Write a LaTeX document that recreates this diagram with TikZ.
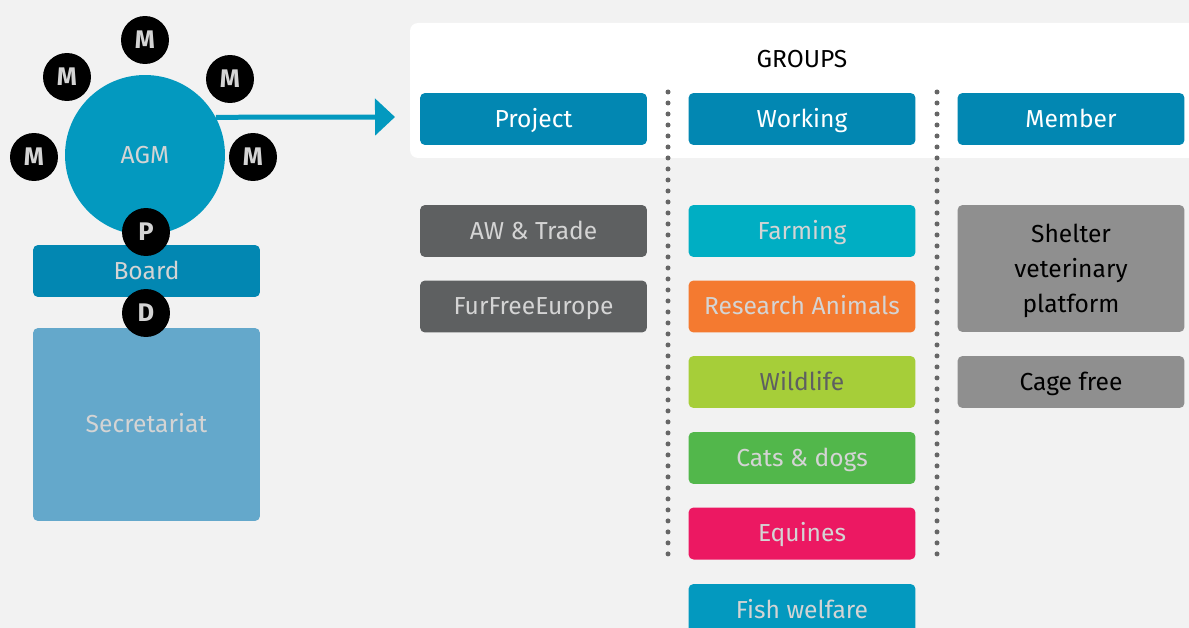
\documentclass[tikz,border=0pt]{standalone}
\usepackage{fontspec}
\setmainfont{Fira Sans}
\usetikzlibrary{arrows.meta,positioning}
\definecolor{bgc}{HTML}{F2F2F2}
\definecolor{agmc}{HTML}{0399BF}
\definecolor{headc}{HTML}{0287B2}
\definecolor{secc}{HTML}{64A8CB}
\definecolor{darkc}{HTML}{5E6061}
\definecolor{farmc}{HTML}{00AEC3}
\definecolor{resc}{HTML}{F47A30}
\definecolor{wildc}{HTML}{A6CE39}
\definecolor{catc}{HTML}{52B74B}
\definecolor{equc}{HTML}{EC1862}
\definecolor{greyc}{HTML}{8F8F8F}
\definecolor{lightc}{HTML}{D4D4D4}
\definecolor{dotc}{HTML}{666666}
\tikzset{
  box/.style={rectangle, rounded corners=0.1cm, minimum width=4.54cm, minimum height=1.04cm,
    inner sep=0pt, align=center, text=lightc, font=\fontsize{14}{20}\selectfont},
  grp/.style={box, text height=12.5pt, text depth=3pt},
  head/.style={grp, fill=headc, text=white},
  memb/.style={circle, fill=black, minimum size=0.96cm, inner sep=0pt, text=lightc,
    font=\fontsize{14.5}{15}\selectfont\bfseries},
  sepline/.style={draw=dotc, line width=0.1cm, line cap=round, dash pattern=on 0pt off 0.22cm},
}

\begin{document}
\begin{tikzpicture}[x=0.02cm, y=-0.02cm]
\useasboundingbox (0,0) rectangle (1189,628);
\clip (0,0) rectangle (1189,628);
\fill[bgc] (0,0) rectangle (1189,628);
\fill[white, rounded corners=0.16cm] (410,23) rectangle (1220,158);
\node[font=\fontsize{14}{15}\selectfont] (groups) at (802,59) {GROUPS};

% left side
\coordinate (into) at (395,117);
\node[circle, fill=agmc, minimum size=3.2cm, inner sep=0pt, text=lightc,
  font=\fontsize{14}{15}\selectfont] (agm) at (145,155) {AGM};
\draw[draw=agmc, line width=0.1cm, -{Triangle[length=0.4cm, width=0.72cm]}] (agm.28) -- (into);
\node[memb] (m1) at (145,40) {M};
\node[memb] (m2) at (67,77) {M};
\node[memb] (m3) at (230,79) {M};
\node[memb] (m4) at (34,157) {M};
\node[memb] (m5) at (253,157) {M};
\node[grp, fill=headc] (board) at (146.5,271) {Board};
\node[grp, fill=secc, minimum height=3.86cm] (secr) at (146.5,424.5) {Secretariat};
\node[memb] (pres) at (146,232) {P};
\node[memb] (dir) at (146,313) {D};

% column separators
\coordinate (s1t) at (668,92);
\coordinate (s1b) at (668,563);
\coordinate (s2t) at (937,92);
\coordinate (s2b) at (937,563);
\draw[sepline] (s1t) -- (s1b);
\draw[sepline] (s2t) -- (s2b);

% headers
\node[head] (project) at (533.5,119) {Project};
\node[head] (working) at (802,119) {Working};
\node[head] (member) at (1071,119) {Member};

% project groups
\node[grp, fill=darkc] (trade) at (533.5,231) {AW \& Trade};
\node[grp, fill=darkc] (fur) at (533.5,306.5) {FurFreeEurope};

% working groups
\node[grp, fill=farmc] (farm) at (802,231) {Farming};
\node[grp, fill=resc] (res) at (802,306.5) {Research Animals};
\node[grp, fill=wildc, text=darkc] (wild) at (802,382) {Wildlife};
\node[grp, fill=catc] (cats) at (802,458) {Cats \& dogs};
\node[grp, fill=equc] (equ) at (802,533.5) {Equines};
\node[grp, fill=agmc] (fish) at (802,610) {Fish welfare};

% member groups
\node[box, fill=greyc, text=black, text depth=0pt, minimum height=2.54cm] (shelter) at (1071,268.5) {Shelter\\veterinary\\platform};
\node[grp, fill=greyc, text=black] (cage) at (1071,382) {Cage free};
\end{tikzpicture}
\end{document}
